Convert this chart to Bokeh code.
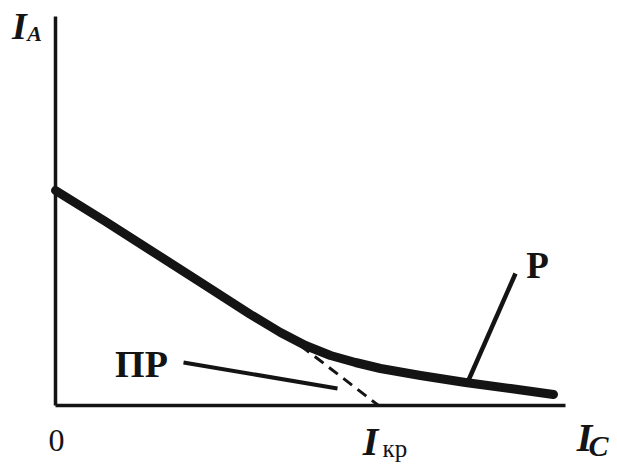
from bokeh.plotting import figure
from bokeh.models import Range1d
from bokeh.core.properties import value
from bokeh.embed import file_html
from bokeh.resources import INLINE

# ---- data (arbitrary units) ----
ic_curve = [0.0, 1.0, 2.0, 3.0, 3.9, 4.5, 5.0, 5.5, 6.0, 6.5, 7.3, 8.2, 9.1, 9.96]
ia_curve = [4.3, 3.68, 3.04, 2.4, 1.82, 1.46, 1.2, 1.0, 0.86, 0.74, 0.6, 0.46, 0.34, 0.22]

tangent_x = [4.9, 6.46]
tangent_y = [1.2, 0.0]

axis_x_end = 10.2
axis_y_end = 7.78

p_pointer_x = [9.2, 8.24]
p_pointer_y = [2.64, 0.46]
pr_pointer_x = [2.56, 5.64]
pr_pointer_y = [0.86, 0.34]

tick_labels = ["0", "I", "кр"]
axis_labels = ["I", "A", "I", "C"]
curve_labels = ["Р", "ПР"]

INK = "#141414"
SERIF = value("Liberation Serif")

p = figure(width=617, height=464, output_backend="svg", toolbar_location=None,
           x_range=Range1d(-1.1, 11.24), y_range=Range1d(-1.18, 8.1),
           min_border=0, min_border_left=0, min_border_right=0,
           min_border_top=0, min_border_bottom=0)
p.axis.visible = False
p.grid.visible = False
p.outline_line_color = None
p.background_fill_color = "white"
p.border_fill_color = "white"

# axes
p.line([0, 0], [axis_y_end, 0], line_color=INK, line_width=3.5)
p.line([0, axis_x_end], [0, 0], line_color=INK, line_width=3.5)

# tangent (dashed)
p.line(tangent_x, tangent_y, line_color=INK, line_width=3, line_dash="11 7")

# main curve
p.line(ic_curve, ia_curve, line_color=INK, line_width=9, line_cap="round", line_join="round")

# pointers
p.line(p_pointer_x, p_pointer_y, line_color=INK, line_width=4.5)
p.line(pr_pointer_x, pr_pointer_y, line_color=INK, line_width=4)

def txt(x, y, s, size, style="normal", align="center"):
    p.text(x=[x], y=[y], text=[s], text_font=SERIF, text_font_size=size,
           text_font_style=style, text_align=align, text_baseline="alphabetic",
           text_color=INK)

# axis titles
txt(-0.72, 7.60, axis_labels[0], "38px", "bold italic")
txt(-0.42, 7.44, axis_labels[1], "22px", "bold italic")
txt(10.58, -0.64, axis_labels[2], "40px", "bold italic")
txt(10.86, -0.80, axis_labels[3], "30px", "bold italic")

# tick labels
txt(0.02, -0.70, tick_labels[0], "32px")
txt(6.30, -0.72, tick_labels[1], "40px", "bold italic")
txt(6.54, -0.86, tick_labels[2], "25px", "normal", "left")

# curve labels
txt(9.64, 2.80, curve_labels[0], "37px", "bold")
txt(1.72, 0.84, curve_labels[1], "38px", "bold")

open("out.html", "w").write(file_html(p, INLINE))
